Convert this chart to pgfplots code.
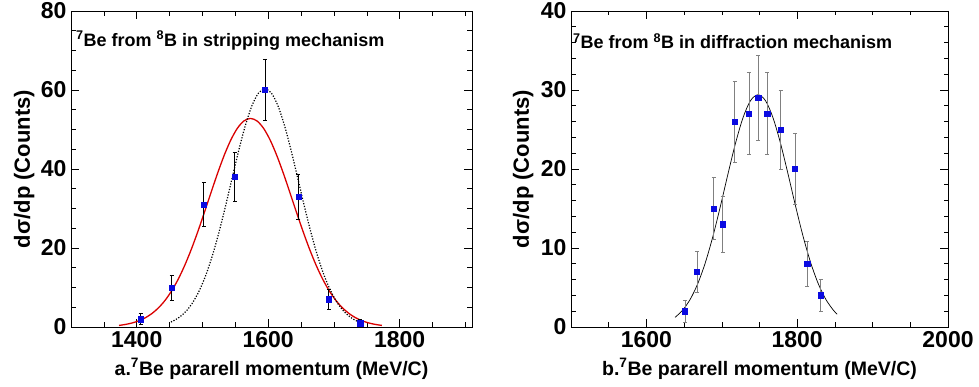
\documentclass[border=0pt]{standalone}
\usepackage{fontspec}
\setmainfont{Liberation Sans}
\usepackage{pgfplots}
\pgfplotsset{compat=1.18}
\definecolor{mkblue}{RGB}{10,10,225}
\pgfplotsset{
  rootstyle/.style={
    scale only axis,
    anchor=south west,
    height=316pt,
    axis line style={black, line width=0.6pt},
    tick style={black, line width=0.6pt},
    major tick length=8pt,
    minor tick length=4.5pt,
    tick align=inside,
    xtick pos=both, ytick pos=both,
    /pgf/number format/assume math mode=true,
    /pgf/number format/1000 sep={},
    ticklabel style={font=\fontsize{23}{23}\selectfont\bfseries},
    xticklabel style={yshift=-1pt},
    yticklabel style={xshift=-1pt},
    ylabel style={font=\fontsize{22}{22}\selectfont\bfseries, anchor=center},
    xlabel style={font=\fontsize{19.5}{20}\selectfont\bfseries, anchor=center, at={(axis description cs:0.5,-0.133)}},
    clip=false,
  }
}
\begin{document}
\begin{tikzpicture}
\path[use as bounding box] (0,0) rectangle (979pt,387pt);
% ---------- left panel ----------
\begin{axis}[rootstyle,
  at={(71pt,60pt)}, width=401pt,
  xmin=1300, xmax=1910, ymin=0, ymax=80,
  xtick={1400,1600,1800},
  minor xtick={1300,1350,...,1900},
  ytick={0,20,40,60,80},
  minor ytick={0,5,...,80},
  ylabel={dσ/dp (Counts)},
  ylabel style={at={(axis description cs:-0.117,0.5)}},
  xlabel={a.\textsuperscript{7}Be pararell momentum (MeV/C)},
]
\addplot[red!85!black, line width=1.3pt, smooth] coordinates {
(1373,0.40) (1383,0.65) (1393,1.02) (1403,1.56) (1413,2.33) (1423,3.40) (1433,4.84)
(1443,6.72) (1453,9.12) (1463,12.07) (1473,15.60) (1483,19.66) (1493,24.19) (1503,29.05)
(1513,34.04) (1523,38.93) (1533,43.44) (1543,47.31) (1553,50.29) (1563,52.16) (1573,52.80)
(1583,52.16) (1593,50.29) (1603,47.31) (1613,43.44) (1623,38.93) (1633,34.04) (1643,29.05)
(1653,24.19) (1663,19.66) (1673,15.60) (1683,12.07) (1693,9.12) (1703,6.72) (1713,4.84)
(1723,3.40) (1733,2.33) (1743,1.56) (1753,1.02) (1763,0.65) (1773,0.40)};
\addplot[black, line width=1.2pt, dash pattern=on 1.2pt off 1.6pt, smooth] coordinates {
(1452,1.27) (1455,1.49) (1465,2.49) (1475,3.98) (1485,6.15) (1495,9.14) (1505,13.08)
(1515,18.03) (1525,23.92) (1535,30.57) (1545,37.62) (1555,44.59) (1565,50.88) (1575,55.92)
(1585,59.17) (1595,60.30) (1605,59.17) (1615,55.92) (1625,50.88) (1635,44.59) (1645,37.62)
(1655,30.57) (1665,23.92) (1675,18.03) (1685,13.08) (1695,9.14) (1705,6.15) (1715,3.98)
(1725,2.49) (1735,1.49) (1745,0.86)};
\addplot[only marks, mark=square*, mark size=2.7pt, mkblue,
  error bars/.cd, y dir=both, y explicit,
  error mark=-,
  error bar style={black, line width=0.6pt},
  error mark options={black, rotate=90, mark size=2pt, line width=0.6pt}]
  coordinates {
(1406,2) +- (0,1.4)
(1453,10) +- (0,3.2)
(1502,31) +- (0,5.6)
(1549,38) +- (0,6.2)
(1595,60) +- (0,7.7)
(1646,33) +- (0,5.7)
(1692,7) +- (0,2.6)
(1740,1) +- (0,1.0)};
\node[anchor=base west, font=\fontsize{18}{18}\selectfont\bfseries, inner sep=0pt]
  at (rel axis cs:0.0125,0.889) {\textsuperscript{7}Be from \textsuperscript{8}B in stripping mechanism};
\end{axis}
% ---------- right panel ----------
\begin{axis}[rootstyle,
  at={(571pt,60pt)}, width=377pt,
  xmin=1500, xmax=2000, ymin=0, ymax=40,
  xtick={1600,1800,2000},
  minor xtick={1500,1550,...,2000},
  ytick={0,10,20,30,40},
  minor ytick={0,2,...,40},
  ylabel={dσ/dp (Counts)},
  ylabel style={at={(axis description cs:-0.127,0.5)}},
  xlabel={b.\textsuperscript{7}Be pararell momentum (MeV/C)},
]
\addplot[black, line width=0.7pt, smooth] coordinates {
(1638,1.22) (1648,2.12) (1658,3.49) (1668,5.46) (1678,8.10) (1688,11.40) (1698,15.23)
(1708,19.30) (1718,23.20) (1728,26.46) (1738,28.64) (1748,29.40) (1758,28.64) (1768,26.46)
(1778,23.20) (1788,19.30) (1798,15.23) (1808,11.40) (1818,8.10) (1828,5.46) (1838,3.49)
(1848,2.12) (1853,1.62)};
\addplot[only marks, mark=square*, mark size=2.7pt, mkblue,
  error bars/.cd, y dir=both, y explicit,
  error mark=-,
  error bar style={gray, line width=0.6pt},
  error mark options={gray, rotate=90, mark size=2pt, line width=0.6pt}]
  coordinates {
(1651,2) +- (0,1.4)
(1667,7) +- (0,2.6)
(1689,15) +- (0,3.9)
(1701,13) +- (0,3.6)
(1717,26) +- (0,5.1)
(1736,27) +- (0,5.2)
(1748,29) +- (0,5.4)
(1760,27) +- (0,5.2)
(1778,25) +- (0,5.0)
(1797,20) +- (0,4.5)
(1813,8) +- (0,2.8)
(1831,4) +- (0,2.0)};
\node[anchor=base west, font=\fontsize{18}{18}\selectfont\bfseries, inner sep=0pt]
  at (rel axis cs:0.005,0.882) {\textsuperscript{7}Be from \textsuperscript{8}B in diffraction mechanism};
\end{axis}
\end{tikzpicture}
\end{document}
